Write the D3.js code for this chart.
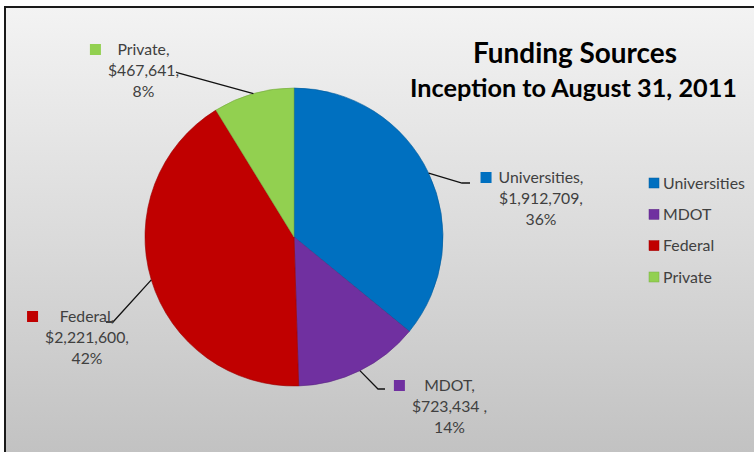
<!DOCTYPE html>
<html><head><meta charset="utf-8">
<script src="https://cdn.jsdelivr.net/npm/d3@7"></script>
<style>body{margin:0;background:#fff} svg{display:block}</style>
</head><body>
<svg id="c" width="754" height="452"></svg>
<script>
// ---- data ----
const categories = ["Universities", "MDOT", "Federal", "Private"];
const values = [1912709, 723434, 2221600, 467641];
const nameLabels = ["Universities,", "MDOT,", "Federal,", "Private,"];
const amountLabels = ["$1,912,709,", "$723,434 ,", "$2,221,600,", "$467,641,"];
const percentLabels = ["36%", "14%", "42%", "8%"];
const colors = ["#0070C0", "#7030A0", "#C00000", "#92D050"];
const titleLines = ["Funding Sources", "Inception to August 31, 2011"];

// ---- layout ----
const W = 754, H = 452;
const cx = 294, cy = 237, R = 149;
const FONT = "Lato, 'Open Sans', sans-serif";
const TXT = "#404040";
// label blocks: centre x, first baseline, leader elbow & end
const labelLayout = [
  {x: 541, y: 183, elbow: [462, 183], end: [470, 183]},
  {x: 449.5, y: 391, elbow: [378, 389], end: [385, 389]},
  {x: 87, y: 322, elbow: [113, 322], end: [106, 322]},
  {x: 143.5, y: 55, elbow: [178, 73], end: [176, 72]}
];

const svg = d3.select("#c");
const defs = svg.append("defs");
const grad = defs.append("linearGradient").attr("id", "bg")
  .attr("x1", 0).attr("y1", 0).attr("x2", 0).attr("y2", 1);
grad.append("stop").attr("offset", "0%").attr("stop-color", "#f3f3f3");
grad.append("stop").attr("offset", "50%").attr("stop-color", "#dadada");
grad.append("stop").attr("offset", "100%").attr("stop-color", "#bfbfbf");

svg.append("rect").attr("width", W).attr("height", H).attr("fill", "#fff");
svg.append("rect").attr("x", 5).attr("y", 7).attr("width", W + 20).attr("height", H + 20)
  .attr("fill", "url(#bg)").attr("stroke", "#1a1a1a").attr("stroke-width", 2);

function fit(sel, w) {
  const l = sel.node().getComputedTextLength();
  const fs = parseFloat(sel.attr("font-size"));
  sel.attr("font-size", fs * w / l);
  return fs * w / l;
}

// ---- title ----
const t1 = svg.append("text").attr("x", 575).attr("y", 63).attr("text-anchor", "middle")
  .attr("font-family", FONT).attr("font-weight", "bold").attr("font-size", 26)
  .attr("fill", "#000").text(titleLines[0]);
fit(t1, 204);
const t2 = svg.append("text").attr("x", 573.5).attr("y", 97).attr("text-anchor", "middle")
  .attr("font-family", FONT).attr("font-weight", "bold").attr("font-size", 22)
  .attr("fill", "#000").text(titleLines[1]);
fit(t2, 327);

// ---- pie ----
const data = categories.map((c, i) => ({name: c, value: values[i], i}));
const pie = d3.pie().sort(null).value(d => d.value);
const arcs = pie(data);
const arc = d3.arc().innerRadius(0).outerRadius(R);
const color = d3.scaleOrdinal().domain(categories).range(colors);

const g = svg.append("g").attr("transform", `translate(${cx},${cy})`);
g.selectAll("path").data(arcs).join("path")
  .attr("d", arc)
  .attr("fill", d => color(d.data.name))
  .attr("stroke", d => d3.color(color(d.data.name)).darker(0.6))
  .attr("stroke-width", 0.6);

// ---- leader lines & labels ----
// measure label font size from reference width of "Universities,"
const probe = svg.append("text").attr("font-family", FONT).attr("font-size", 15).text(nameLabels[0]);
const labelFS = fit(probe, 85);
probe.remove();

arcs.forEach((a, k) => {
  const L = labelLayout[k];
  const mid = (a.startAngle + a.endAngle) / 2;
  const p0 = [cx + R * Math.sin(mid), cy - R * Math.cos(mid)];
  svg.append("polyline")
    .attr("points", [p0, L.elbow, L.end].map(p => p.join(",")).join(" "))
    .attr("fill", "none").attr("stroke", "#111").attr("stroke-width", 1.3);

  const lines = [nameLabels[k], amountLabels[k], percentLabels[k]];
  const tg = svg.append("g");
  const texts = lines.map((s, j) => tg.append("text")
    .attr("x", L.x).attr("y", L.y + j * 21)
    .attr("text-anchor", "middle").attr("font-family", FONT)
    .attr("font-size", labelFS).attr("fill", TXT).text(s));
  const maxW = d3.max(texts, t => t.node().getComputedTextLength());
  const sq = 11;
  svg.append("rect")
    .attr("x", L.x - maxW / 2 - 7 - sq).attr("y", L.y - sq)
    .attr("width", sq).attr("height", sq)
    .attr("fill", color(a.data.name));
});

// ---- legend ----
const ly = d3.scalePoint().domain(categories).range([183, 277]);
const leg = svg.append("g");
const legProbe = svg.append("text").attr("font-family", FONT).attr("font-size", 15).text(categories[0]);
const legFS = fit(legProbe, 82);
legProbe.remove();
categories.forEach(c => {
  leg.append("rect").attr("x", 649).attr("y", ly(c) - 5).attr("width", 10).attr("height", 10)
    .attr("fill", color(c)).attr("stroke", d3.color(color(c)).darker(0.5)).attr("stroke-width", 0.5);
  leg.append("text").attr("x", 663).attr("y", ly(c) + 5.5)
    .attr("font-family", FONT).attr("font-size", legFS).attr("fill", TXT).text(c);
});
</script>
</body></html>
